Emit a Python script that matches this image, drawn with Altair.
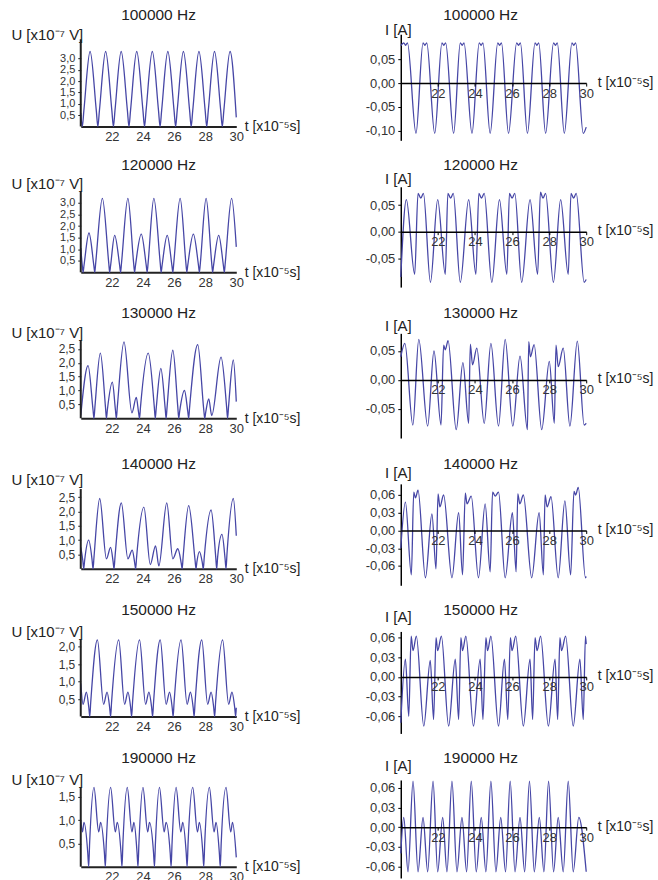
import altair as alt
import pandas as pd

FONT = "Liberation Sans"
LINE = "#4646a6"
AX = "#222222"
XT = "t [x10⁻⁵s]"
UT = "U [x10⁻⁷ V]"
IT = "I [A]"
XTICKS = [22, 24, 26, 28, 30]

# ---------------- U panels (left column) ----------------
u100_t = [20.0, 20.1, 20.2, 20.6, 21.0, 21.1, 21.2, 21.6, 22.0, 22.1, 22.2, 22.6, 23.0, 23.1, 23.2, 23.6,
          24.0, 24.1, 24.2, 24.6, 25.0, 25.1, 25.2, 25.6, 26.0, 26.1, 26.2, 26.6, 27.0, 27.1, 27.2, 27.6,
          28.0, 28.1, 28.2, 28.6, 29.0, 29.1, 29.2, 29.6, 30.0]
u100_v = [0.6, 0.0, 0.7, 3.3, 0.7, 0.0, 0.7, 3.3, 0.7, 0.0, 0.7, 3.3, 0.7, 0.0, 0.7, 3.3,
          0.7, 0.0, 0.7, 3.3, 0.7, 0.0, 0.7, 3.3, 0.7, 0.0, 0.7, 3.3, 0.7, 0.0, 0.7, 3.3,
          0.7, 0.0, 0.7, 3.3, 0.7, 0.0, 0.7, 3.3, 0.4]

u120_t = [20.0, 20.09, 20.15, 20.21, 20.53, 20.84, 20.9, 20.96, 21.39, 21.8, 21.86, 21.92, 22.18, 22.5,
          22.56, 22.62, 23.03, 23.4, 23.46, 23.52, 23.89, 24.21, 24.27, 24.33, 24.7, 25.11, 25.17, 25.23,
          25.56, 25.86, 25.92, 25.98, 26.39, 26.76, 26.82, 26.88, 27.24, 27.57, 27.63, 27.69, 28.06, 28.42,
          28.48, 28.54, 28.87, 29.17, 29.23, 29.29, 29.7, 30.0]
u120_v = [1.05, 0.35, 0.0, 0.3, 1.7, 0.3, 0.0, 0.4, 3.2, 0.4, 0.0, 0.3, 1.6, 0.3,
          0.0, 0.4, 3.2, 0.4, 0.0, 0.3, 1.65, 0.3, 0.0, 0.4, 3.2, 0.4, 0.0, 0.3,
          1.6, 0.3, 0.0, 0.4, 3.2, 0.4, 0.0, 0.3, 1.65, 0.3, 0.0, 0.4, 3.2, 0.4,
          0.0, 0.3, 1.6, 0.3, 0.0, 0.4, 3.2, 1.1]

u130_t = [20.0, 20.47, 20.79, 20.85, 20.91, 21.26, 21.59, 21.65, 21.71, 22.03, 22.23, 22.29, 22.35, 22.78,
          23.29, 23.57, 23.72, 23.78, 23.84, 24.34, 24.73, 24.79, 24.85, 25.15, 25.43, 25.49, 25.55, 25.92,
          26.24, 26.3, 26.36, 26.67, 26.88, 26.94, 27.0, 27.52, 27.91, 27.97, 28.03, 28.23, 28.42, 29.02,
          29.38, 29.44, 29.5, 29.81, 30.0]
u130_v = [0.1, 1.9, 0.3, 0.0, 0.4, 2.35, 0.4, 0.0, 0.3, 1.3, 0.3, 0.0, 0.4, 2.75,
          0.2, 0.75, 0.2, 0.0, 0.4, 2.35, 0.4, 0.0, 0.35, 1.8, 0.35, 0.0, 0.4, 2.45,
          0.4, 0.0, 0.25, 1.0, 0.25, 0.0, 0.4, 2.65, 0.3, 0.0, 0.2, 0.7, 0.1, 2.2,
          0.4, 0.0, 0.4, 2.1, 0.6]

u140_t = [20.0, 20.13, 20.19, 20.25, 20.51, 20.73, 20.79, 20.85, 21.22, 21.65, 21.92, 22.08, 22.14, 22.2,
          22.61, 23.03, 23.31, 23.47, 23.53, 23.59, 24.06, 24.47, 24.81, 25.02, 25.53, 25.92, 26.24, 26.46,
          26.52, 26.58, 26.94, 27.35, 27.41, 27.47, 27.63, 27.82, 27.88, 27.94, 28.38, 28.68, 28.74, 28.8,
          29.08, 29.28, 29.34, 29.4, 29.81, 30.0]
u140_v = [0.75, 0.3, 0.0, 0.3, 1.0, 0.3, 0.0, 0.4, 2.45, 0.35, 0.75, 0.25, 0.0, 0.4,
          2.3, 0.35, 0.65, 0.2, 0.0, 0.4, 2.15, 0.15, 0.8, 0.1, 2.3, 0.35, 0.7, 0.2,
          0.0, 0.4, 2.2, 0.3, 0.0, 0.25, 0.6, 0.2, 0.0, 0.4, 2.05, 0.4, 0.0, 0.4,
          1.2, 0.35, 0.0, 0.5, 2.45, 1.15]

u150_t = [20.0, 20.15, 20.36, 20.52, 20.58, 20.64, 21.07, 21.47, 21.69, 21.86, 21.92, 21.98, 22.44, 22.82,
          23.03, 23.21, 23.27, 23.33, 23.78, 24.17, 24.38, 24.56, 24.62, 24.68, 25.11, 25.49, 25.71, 25.88,
          25.94, 26.0, 26.45, 26.84, 27.05, 27.23, 27.29, 27.35, 27.78, 28.16, 28.38, 28.55, 28.61, 28.67,
          29.12, 29.51, 29.72, 29.9, 29.96, 30.0]
u150_v = [0.95, 0.35, 0.7, 0.25, 0.0, 0.4, 2.2, 0.35, 0.7, 0.25, 0.0, 0.4, 2.2, 0.35,
          0.7, 0.25, 0.0, 0.4, 2.2, 0.35, 0.7, 0.25, 0.0, 0.4, 2.2, 0.35, 0.7, 0.25,
          0.0, 0.4, 2.2, 0.35, 0.7, 0.25, 0.0, 0.4, 2.2, 0.35, 0.7, 0.25, 0.0, 0.4,
          2.2, 0.35, 0.7, 0.25, 0.0, 0.25]

u190_t = [20.0, 20.11, 20.21, 20.45, 20.51, 20.57, 20.85, 21.15, 21.28, 21.52, 21.58, 21.64, 21.92, 22.22,
          22.35, 22.59, 22.65, 22.71, 22.99, 23.29, 23.42, 23.62, 23.68, 23.74, 24.0, 24.3, 24.42, 24.68,
          24.74, 24.8, 25.06, 25.36, 25.49, 25.75, 25.81, 25.87, 26.13, 26.43, 26.56, 26.78, 26.84, 26.9,
          27.2, 27.5, 27.63, 27.85, 27.91, 27.97, 28.27, 28.57, 28.7, 28.91, 28.97, 29.03, 29.34, 29.64,
          29.76, 30.0]
u190_v = [1.0, 0.75, 0.95, 0.3, 0.0, 0.5, 1.7, 0.75, 0.95, 0.3, 0.0, 0.5, 1.7, 0.75,
          0.95, 0.3, 0.0, 0.5, 1.7, 0.75, 0.95, 0.3, 0.0, 0.5, 1.7, 0.75, 0.95, 0.3,
          0.0, 0.5, 1.7, 0.75, 0.95, 0.3, 0.0, 0.5, 1.7, 0.75, 0.95, 0.3, 0.0, 0.5,
          1.7, 0.75, 0.95, 0.3, 0.0, 0.5, 1.7, 0.75, 0.95, 0.3, 0.0, 0.5, 1.7, 0.75,
          0.95, 0.2]

# ---------------- I panels (right column) ----------------
i100_t = [20.0, 20.16, 20.26, 20.36, 20.82, 21.2, 21.3, 21.4, 21.83, 22.22, 22.32, 22.42, 22.85, 23.21,
          23.31, 23.41, 23.84, 24.23, 24.33, 24.43, 24.82, 25.23, 25.33, 25.43, 25.81, 26.25, 26.35, 26.45,
          26.83, 27.24, 27.34, 27.44, 27.81, 28.24, 28.34, 28.44, 28.82, 29.23, 29.33, 29.43, 29.84, 30.0]
i100_v = [0.078, 0.084, 0.079, 0.084, -0.105, 0.084, 0.079, 0.084, -0.105, 0.084, 0.079, 0.084, -0.105, 0.084,
          0.079, 0.084, -0.105, 0.084, 0.079, 0.084, -0.105, 0.084, 0.079, 0.084, -0.105, 0.084, 0.079, 0.084,
          -0.105, 0.084, 0.079, 0.084, -0.105, 0.084, 0.079, 0.084, -0.105, 0.084, 0.079, 0.084, -0.105, -0.092]

i120_t = [20.0, 20.3, 20.75, 20.93, 21.08, 21.22, 21.6, 21.99, 22.4, 22.54, 22.69, 22.83, 23.21, 23.66,
          24.05, 24.21, 24.35, 24.5, 24.91, 25.32, 25.72, 25.86, 26.0, 26.15, 26.52, 26.97, 27.38, 27.53,
          27.67, 27.81, 28.23, 28.62, 29.03, 29.18, 29.32, 29.46, 29.89, 30.0]
i120_v = [-0.085, 0.06, -0.08, 0.072, 0.063, 0.072, -0.095, 0.06, -0.08, 0.072, 0.063, 0.072, -0.095, 0.06,
          -0.08, 0.072, 0.063, 0.072, -0.095, 0.06, -0.08, 0.072, 0.063, 0.072, -0.095, 0.06, -0.08, 0.074,
          0.063, 0.072, -0.095, 0.06, -0.08, 0.072, 0.063, 0.072, -0.095, -0.09]

i130_t = [20.0, 20.22, 20.65, 20.97, 21.45, 21.79, 22.17, 22.31, 22.4, 22.55, 22.99, 23.35, 23.66, 23.75,
          23.87, 24.1, 24.5, 24.86, 25.27, 25.63, 26.04, 26.43, 26.83, 26.9, 26.99, 27.19, 27.6, 28.01,
          28.28, 28.37, 28.49, 28.76, 29.12, 29.52, 29.89, 30.0]
i130_v = [0.04, 0.063, -0.078, 0.07, -0.08, 0.05, -0.078, 0.06, 0.052, 0.068, -0.086, 0.03, -0.075, 0.062,
          0.026, 0.055, -0.075, 0.063, -0.08, 0.07, -0.08, 0.041, -0.086, 0.066, 0.04, 0.061, -0.086, 0.032,
          -0.075, 0.06, 0.023, 0.055, -0.08, 0.067, -0.078, -0.075]

i140_t = [20.0, 20.25, 20.57, 20.7, 20.79, 20.93, 21.33, 21.68, 21.9, 22.01, 22.11, 22.31, 22.76, 23.12,
          23.33, 23.48, 23.57, 23.8, 24.19, 24.55, 24.82, 24.95, 25.09, 25.27, 25.63, 26.02, 26.22, 26.31,
          26.42, 26.61, 27.06, 27.46, 27.69, 27.78, 27.89, 28.1, 28.49, 28.85, 29.16, 29.34, 29.43, 29.57,
          29.96, 30.0]
i140_v = [-0.03, 0.048, -0.075, 0.065, 0.055, 0.068, -0.08, 0.028, -0.065, 0.062, 0.04, 0.06, -0.08, 0.03,
          -0.075, 0.063, 0.045, 0.058, -0.08, 0.045, -0.07, 0.065, 0.058, 0.065, -0.08, 0.03, -0.07, 0.062,
          0.045, 0.06, -0.08, 0.03, -0.075, 0.06, 0.04, 0.057, -0.08, 0.05, -0.075, 0.066, 0.06, 0.073,
          -0.08, -0.078]

i150_t = [20.0, 20.25, 20.43, 20.56, 20.66, 20.84, 21.24, 21.59, 21.77, 21.9, 21.99, 22.19, 22.58, 22.94,
          23.12, 23.24, 23.33, 23.51, 23.92, 24.28, 24.43, 24.59, 24.68, 24.86, 25.27, 25.59, 25.77, 25.91,
          26.0, 26.2, 26.61, 26.97, 27.11, 27.24, 27.35, 27.54, 27.96, 28.32, 28.46, 28.58, 28.67, 28.89,
          29.3, 29.66, 29.84, 29.96, 30.0]
i150_v = [-0.07, 0.027, -0.06, 0.062, 0.04, 0.062, -0.075, 0.025, -0.065, 0.06, 0.04, 0.062, -0.075, 0.027,
          -0.065, 0.06, 0.04, 0.062, -0.075, 0.027, -0.065, 0.06, 0.04, 0.062, -0.075, 0.027, -0.065, 0.06,
          0.04, 0.062, -0.075, 0.027, -0.065, 0.06, 0.04, 0.062, -0.075, 0.027, -0.065, 0.06, 0.04, 0.062,
          -0.075, 0.027, -0.065, 0.062, 0.05]

i190_t = [20.0, 20.16, 20.39, 20.66, 20.93, 21.2, 21.45, 21.74, 21.99, 22.26, 22.49, 22.76, 23.03, 23.3,
          23.55, 23.8, 24.07, 24.34, 24.59, 24.86, 25.13, 25.39, 25.65, 25.9, 26.16, 26.43, 26.68, 26.94,
          27.2, 27.47, 27.72, 27.97, 28.24, 28.49, 28.76, 29.03, 29.3, 29.6, 30.0]
i190_v = [-0.04, 0.015, -0.068, 0.07, -0.068, 0.015, -0.068, 0.07, -0.068, 0.015, -0.068, 0.07, -0.068, 0.015,
          -0.068, 0.07, -0.068, 0.015, -0.068, 0.07, -0.068, 0.015, -0.068, 0.07, -0.068, 0.015, -0.068, 0.07,
          -0.068, 0.015, -0.068, 0.07, -0.068, 0.015, -0.068, 0.07, -0.068, 0.015, -0.068]

TITLES = ["100000 Hz", "120000 Hz", "130000 Hz", "140000 Hz", "150000 Hz", "190000 Hz"]
U_DATA = [(u100_t, u100_v), (u120_t, u120_v), (u130_t, u130_v), (u140_t, u140_v), (u150_t, u150_v), (u190_t, u190_v)]
I_DATA = [(i100_t, i100_v), (i120_t, i120_v), (i130_t, i130_v), (i140_t, i140_v), (i150_t, i150_v), (i190_t, i190_v)]

# layout parameters (pixels / scale extents)
ROW_H = [106.4, 100.6, 105.0, 101.7, 102.3, 98.3]
L_H = [92.5, 85.8, 85.2, 85.2, 85.3, 87.0]
L_MAX = [4.06, 3.70, 3.06, 2.96, 2.44, 1.86]
L_TOP = [3.84, 3.48, 2.82, 2.78, 2.2, 1.7]
L_TICKS = [[0.5, 1.0, 1.5, 2.0, 2.5, 3.0], [0.5, 1.0, 1.5, 2.0, 2.5, 3.0], [0.5, 1.0, 1.5, 2.0, 2.5],
           [0.5, 1.0, 1.5, 2.0, 2.5], [0.5, 1.0, 1.5, 2.0], [0.5, 1.0, 1.5]]
R_DOM = [(-0.1196, 0.102), (-0.1041, 0.0843), (-0.1005, 0.0805), (-0.0927, 0.0788), (-0.0862, 0.0693), (-0.0775, 0.0719)]
R_TICKS = [[-0.10, -0.05, 0.0, 0.05], [-0.05, 0.0, 0.05], [-0.05, 0.0, 0.05],
           [-0.06, -0.03, 0.0, 0.03, 0.06], [-0.06, -0.03, 0.0, 0.03, 0.06], [-0.06, -0.03, 0.0, 0.03, 0.06]]
L_YT = [0, -3.7, -1.3, -4.3, 0, 0]
R_YT = [-5, -8.7, -8.3, -11.6, -15, -15]
TITLE_Y = [-19, -21.7, -20.3, -20.3, -21.7, -22]

AXT = 15     # axis title size
TTL = 15.5   # panel title size
LBS = 11     # left tick label size
RBS = 13     # right tick label size
LBL = "replace(replace(datum.label, '.', ','), '\u2212', '-')"


def title(text, dx, top_bound, target):
    return alt.Title(text, fontSize=TTL, font=FONT, fontWeight="normal", color="#222222",
                     anchor="middle", dx=dx, baseline="middle", offset=min(top_bound, 0) - target - 15)


def left_panel(i):
    t, v = U_DATA[i]
    df = pd.DataFrame({"t": t, "v": v})
    xenc = alt.X("t:Q", scale=alt.Scale(domain=[20, 30], nice=False, zero=False),
                 axis=alt.Axis(values=XTICKS, format="d", title=XT, titleX=164, titleY=0,
                               titleAlign="left", titleBaseline="middle", titleAngle=0,
                               titleFontSize=14, titleFontWeight="normal", titleFont=FONT, titleColor="#222222",
                               ticks=False, domainColor=AX, domainWidth=2, labelPadding=4,
                               labelFontSize=RBS, labelFont=FONT, labelColor="#333333", grid=False,
                               labelFlush=False, labelOverlap=False))
    yenc = alt.Y("v:Q", scale=alt.Scale(domain=[0, L_MAX[i]], nice=False, zero=True),
                 axis=alt.Axis(values=L_TICKS[i], format=".1f", labelExpr=LBL, title=UT,
                               titleAngle=0, titleAlign="right", titleBaseline="middle", titleX=2,
                               titleY=L_YT[i], titleFontSize=AXT, titleFontWeight="normal", titleFont=FONT,
                               titleColor="#222222", domain=False, tickSize=3, tickColor=AX, labelPadding=3,
                               labelFontSize=LBS + (1 if i >= 2 else 0), labelFont=FONT, labelColor="#333333",
                               grid=False, labelOverlap=False))
    line = alt.Chart(df).mark_line(interpolate="monotone", color=LINE, strokeWidth=1.3).encode(x=xenc, y=yenc)
    rdf = pd.DataFrame({"t": [20.0], "v": [0.0], "v2": [L_TOP[i]]})
    rule = alt.Chart(rdf).mark_rule(color=AX, strokeWidth=2).encode(x=xenc, y=yenc, y2="v2:Q")
    return alt.layer(line, rule, title=title(TITLES[i], 0, L_YT[i] - AXT / 2, TITLE_Y[i])).properties(
        width=156, height=L_H[i])


def right_panel(i):
    t, v = I_DATA[i]
    df = pd.DataFrame({"t": t, "v": v})
    lo, hi = R_DOM[i]
    h = ROW_H[i]
    off = -h * (0 - lo) / (hi - lo)
    xenc = alt.X("t:Q", scale=alt.Scale(domain=[20, 30], nice=False, zero=False),
                 axis=alt.Axis(values=XTICKS, format="d", title=XT, titleX=197, titleY=-1,
                               titleAlign="left", titleBaseline="middle", titleAngle=0,
                               titleFontSize=14, titleFontWeight="normal", titleFont=FONT, titleColor="#222222",
                               offset=off, tickSize=3, tickColor="#000000", domainColor="#000000",
                               domainWidth=1.5, labelPadding=1, labelFontSize=RBS, labelFont=FONT,
                               labelColor="#333333", grid=False, zindex=1, labelFlush=False,
                               labelOverlap=False))
    yenc = alt.Y("v:Q", scale=alt.Scale(domain=[lo, hi], nice=False, zero=False),
                 axis=alt.Axis(values=R_TICKS[i], format=".2f", labelExpr=LBL, title=IT,
                               titleAngle=0, titleAlign="center", titleBaseline="middle", titleX=-3,
                               titleY=R_YT[i], titleFontSize=AXT, titleFontWeight="normal", titleFont=FONT,
                               titleColor="#222222", domainColor="#000000", domainWidth=1.5, tickSize=3,
                               tickColor="#000000", labelPadding=3, labelFontSize=RBS, labelFont=FONT,
                               labelColor="#333333", grid=False, labelOverlap=False))
    line = alt.Chart(df).mark_line(interpolate="monotone", color=LINE, strokeWidth=1.3).encode(x=xenc, y=yenc)
    return line.properties(width=186, height=h,
                           title=title(TITLES[i], -13, R_YT[i] - AXT / 2, TITLE_Y[i]))


panels = []
for i in range(6):
    panels.append(left_panel(i))
    panels.append(right_panel(i))

chart = alt.concat(*panels, columns=2, spacing={"row": 46, "column": 165}, bounds="flush", align="each").properties(
    padding={"left": 10, "top": 7, "right": 5, "bottom": 5}
).configure(font=FONT).configure_view(stroke=None)

chart.save("out.html", embed_options={"renderer": "svg", "actions": False})
